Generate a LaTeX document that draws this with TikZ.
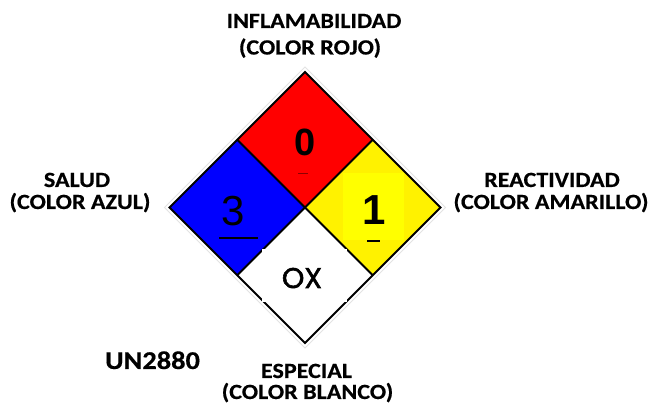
\documentclass[tikz,border=0pt]{standalone}
\usepackage{fontspec}
\newfontfamily\labfont{Carlito}[FakeStretch=1.11,FakeBold=0.5]
\newfontfamily\arfont{Liberation Sans}
\newfontfamily\popfont{Poppins}[FakeBold=1.9]
\definecolor{nfred}{RGB}{255,0,0}
\definecolor{nfblue}{RGB}{0,0,255}
\definecolor{nfyel}{RGB}{255,242,0}
\definecolor{nfyelb}{RGB}{255,255,0}
\tikzset{
  lab/.style={anchor=base,inner sep=0pt,font=\labfont\bfseries\fontsize{21.7}{26}\selectfont},
  edge/.style={draw=black,line width=1.9pt,line join=miter},
}
\begin{document}
\begin{tikzpicture}[x=1pt,y=-1pt]
\useasboundingbox (0,0) rectangle (649,411);
\fill[white] (0,0) rectangle (649,411);
% vertices
\coordinate (T) at (305,72);
\coordinate (B) at (305,343);
\coordinate (L) at (169.5,207.5);
\coordinate (R) at (440.5,207.5);
\coordinate (C) at (305,207.5);
\coordinate (TL) at (237.25,139.75);
\coordinate (TR) at (372.75,139.75);
\coordinate (BL) at (237.25,275.25);
\coordinate (BR) at (372.75,275.25);
% faint outer outline
\draw[gray!22,line width=0.9pt] (305,67) -- (445.5,207.5) -- (305,348) -- (164.5,207.5) -- cycle;
% squares
\fill[nfred] (T) -- (TR) -- (C) -- (TL) -- cycle;
\fill[nfblue] (L) -- (TL) -- (C) -- (BL) -- cycle;
\fill[nfyel] (R) -- (BR) -- (C) -- (TR) -- cycle;
\fill[white] (B) -- (BL) -- (C) -- (BR) -- cycle;
\fill[nfyelb] (343,173) rectangle (404,240);
% lines
\draw[edge] (T) -- (R) -- (B) -- (L) -- cycle;
\draw[edge] (TL) -- (BR);
\draw[edge] (TR) -- (BL);
% white patch
\fill[white] (262,249) rectangle (347,302);
% numbers
\node[anchor=base,inner sep=0pt,font=\arfont\bfseries\fontsize{38}{40}\selectfont] (n0) at (305.5,156) {0};
\draw[red!55!black,line width=0.7pt] (298,173) -- (308,173);
\node[anchor=base,inner sep=0pt,font=\arfont\fontsize{42}{44}\selectfont] (n3) at (233,226) {3};
\draw[black,line width=1.2pt] (219,238) -- (258,238);
\node[anchor=base,inner sep=0pt,font=\arfont\bfseries\fontsize{42}{44}\selectfont] (n1) at (374.5,225) {1};
\draw[black,line width=1.6pt] (367,241) -- (380,241);
\node[anchor=base,inner sep=0pt,font=\popfont\fontsize{28.5}{30}\selectfont] (ox) at (302,288) {OX};
% labels
\node[lab] (fl1) at (314,28) {INFLAMABILIDAD};
\node[lab] (fl2) at (310,54.5) {(COLOR ROJO)};
\node[lab] (sa1) at (77,187) {SALUD};
\node[lab] (sa2) at (80,209) {(COLOR AZUL)};
\node[lab] (re1) at (552,187) {REACTIVIDAD};
\node[lab] (re2) at (551,209) {(COLOR AMARILLO)};
\node[lab] (es1) at (306.5,378) {ESPECIAL};
\node[lab] (es2) at (307.5,399) {(COLOR BLANCO)};
\node[anchor=base,inner sep=0pt,font=\labfont\bfseries\fontsize{25.6}{28}\selectfont] (un) at (152.5,369) {UN2880};
\end{tikzpicture}
\end{document}
